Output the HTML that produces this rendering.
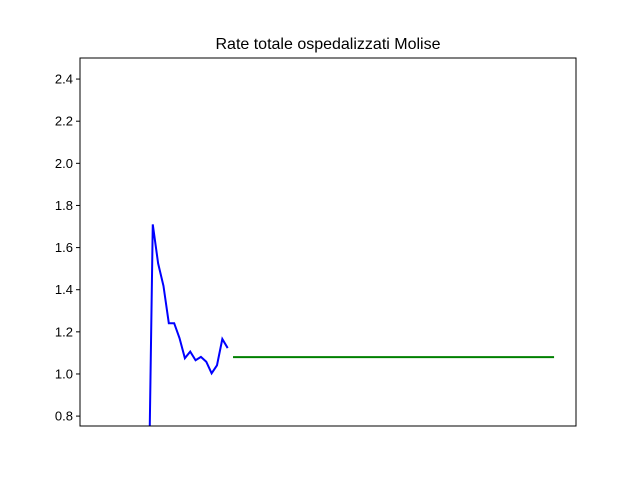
<!DOCTYPE html>
<html><head><meta charset="utf-8"><style>
html,body{margin:0;padding:0;background:#fff;overflow:hidden;width:640px;height:480px;}
svg{display:block;}
svg text{font-family:"Liberation Sans","DejaVu Sans",sans-serif;}
</style></head><body>
<svg id="chart" width="640" height="480" xmlns="http://www.w3.org/2000/svg">
<rect width="640" height="480" fill="#fff"/>
<text x="328" y="49" text-anchor="middle" font-size="16">Rate totale ospedalizzati Molise</text>
<g id="yticks"></g>
<defs><clipPath id="clip"><rect x="80" y="58" width="496" height="368"/></clipPath></defs>
<g clip-path="url(#clip)">
<polyline id="blue" fill="none" stroke="#0000ff" stroke-width="2"/>
<polyline id="green" fill="none" stroke="#008000" stroke-width="2"/>
</g>
<rect x="80" y="58" width="496" height="368" fill="none" stroke="#000" stroke-width="1"/>
</svg>
<script>
const rateValues=[0.0,1.710,1.525,1.418,1.241,1.241,1.170,1.075,1.106,1.065,1.081,1.058,1.003,1.041,1.166,1.123];
const meanValue=1.08;
const meanStart=16;
const meanEnd=76;
const yTicks=[0.8,1.0,1.2,1.4,1.6,1.8,2.0,2.2,2.4];
const X0=-12.6,X1=80.1,Y0=0.753,Y1=2.5;
function sx(i){return 80+(i-X0)/(X1-X0)*496;}
function sy(v){return 426-(v-Y0)/(Y1-Y0)*368;}
document.getElementById('blue').setAttribute('points',rateValues.map((v,i)=>sx(i)+','+sy(v)).join(' '));
document.getElementById('green').setAttribute('points',sx(meanStart)+','+sy(meanValue)+' '+sx(meanEnd)+','+sy(meanValue));
const g=document.getElementById('yticks');
const NS='http://www.w3.org/2000/svg';
yTicks.forEach(t=>{
 const y=sy(t);
 const l=document.createElementNS(NS,'line');
 l.setAttribute('x1',76);l.setAttribute('x2',80);l.setAttribute('y1',y);l.setAttribute('y2',y);l.setAttribute('stroke','#000');
 
 
 g.appendChild(l);
 const tx=document.createElementNS(NS,'text');
 tx.setAttribute('x',73);tx.setAttribute('y',y+4.5);tx.setAttribute('text-anchor','end');tx.setAttribute('font-size','13');
 tx.textContent=t.toFixed(1);
 
 
 g.appendChild(tx);
});
</script>
</body></html>
